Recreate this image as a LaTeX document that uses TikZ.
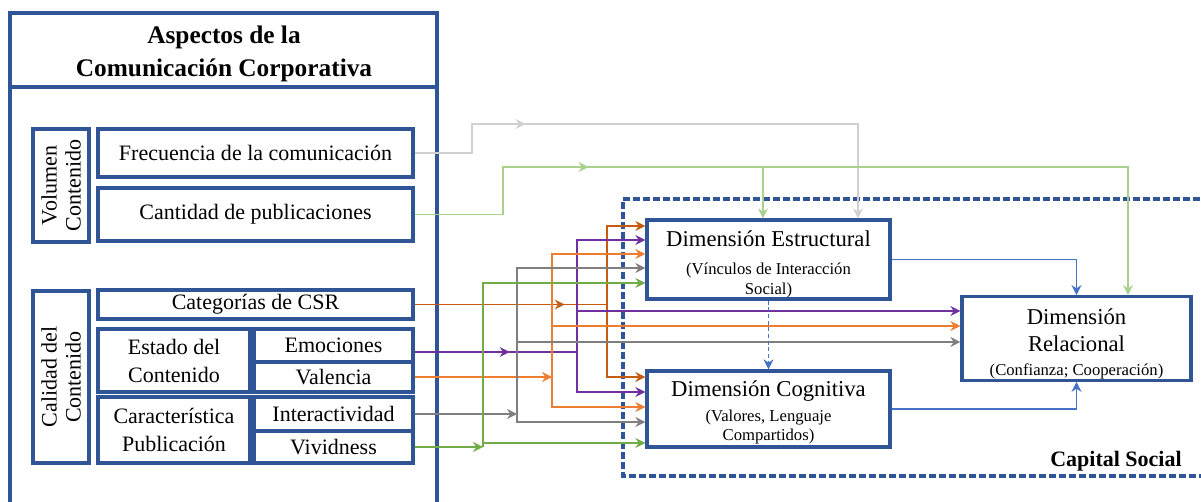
\documentclass[tikz,border=0pt]{standalone}
\usepackage{fontspec}
\setmainfont{Liberation Serif}
\usetikzlibrary{arrows.meta,decorations.markings}
\definecolor{marco}{HTML}{2F5597}
\definecolor{grisc}{HTML}{D0D0D0}
\definecolor{verdec}{HTML}{A9D18E}
\definecolor{verde}{HTML}{70AD47}
\definecolor{gris}{HTML}{7F7F7F}
\definecolor{naranja}{HTML}{ED7D31}
\definecolor{naranjao}{HTML}{C55A11}
\definecolor{morado}{HTML}{7030A0}
\definecolor{azul}{HTML}{4472C4}
\tikzset{>={Stealth[length=7.5pt,width=7.5pt,inset=2.5pt]},
  caja/.style={draw=marco,line width=2.5pt,inner sep=1pt,align=center,font=\fontsize{16.5}{21}\selectfont},
  dim/.style={caja,font=\fontsize{12.5}{14.5}\selectfont},
  linea/.style={line width=.9pt},
  flujo/.style={line width=.9pt,->},
  medio/.style={postaction={decorate},decoration={markings,mark=at position #1 with {\arrow{>}}}}}

\begin{document}
\begin{tikzpicture}[x=.75pt,y=-.75pt]
\useasboundingbox (0,0) rectangle (1201,502);
\clip (0,0) rectangle (1201,502);
\draw[marco,line width=2.5pt] (10,530) |- (437,13) -- (437,530);
\draw[marco,line width=2.5pt] (10,87) -- (437,87);
\node[font=\bfseries\fontsize{19}{24.75}\selectfont,align=center] (titulo) at (224,53.5) {Aspectos de la\\Comunicación Corporativa};

\node[caja,rotate=90,minimum width=84.75pt,minimum height=42pt,font=\fontsize{16.5}{18}\selectfont] (vol) at (61,185.5) {Volumen\\Contenido};
\node[caja,minimum width=236.25pt,minimum height=36pt] (frec) at (255.5,153) {Frecuencia de la comunicación};
\node[caja,minimum width=236.25pt,minimum height=39.75pt] (cant) at (255.5,214.5) {Cantidad de publicaciones};
\node[caja,rotate=90,minimum width=129pt,minimum height=42pt,font=\fontsize{16.5}{18}\selectfont] (cal) at (61,377) {Calidad del\\Contenido};
\node[caja,minimum width=236.25pt,minimum height=21.75pt] (csr) at (255.5,304.5) {Categorías de CSR};
\node[caja,minimum width=114pt,minimum height=47.25pt] (estado) at (174,360.5) {Estado del\\Contenido};
\node[caja,minimum width=119.25pt,minimum height=24.75pt] (emo) at (333.5,345.5) {Emociones};
\node[caja,minimum width=119.25pt,minimum height=22.5pt] (val) at (333.5,377) {Valencia};
\node[caja,minimum width=114pt,minimum height=49.5pt] (carac) at (174,430) {Característica\\Publicación};
\node[caja,minimum width=119.25pt,minimum height=25.5pt] (inter) at (333.5,414) {Interactividad};
\node[caja,minimum width=119.25pt,minimum height=24pt] (viv) at (333.5,447) {Vividness};

\draw[marco,line width=2.5pt,dash pattern=on 5pt off 2.5pt] (1220,199) -| (623,476) -- (1220,476);
\node[font=\bfseries\fontsize{16.5}{20}\selectfont] (capital) at (1116,461) {Capital Social};

\node[dim,minimum width=182.25pt,minimum height=56.25pt] (estr) at (768.5,259.5) {\rule{0pt}{19pt}\fontsize{17}{20}\selectfont Dimensión Estructural\\[6.5pt](Vínculos de Interacción\\Social)};
\node[dim,minimum width=182.25pt,minimum height=57pt] (cogn) at (768.5,409) {\rule{0pt}{17pt}\fontsize{17}{20}\selectfont Dimensión Cognitiva\\[4pt](Valores, Lenguaje\\Compartidos)};
\node[dim,minimum width=171.75pt,minimum height=60.75pt,font=\fontsize{17}{20}\selectfont] (rel) at (1076.5,338.5) {\rule{0pt}{20pt}Dimensión\\Relacional\\[-2pt]\fontsize{12.5}{14.5}\selectfont(Confianza; Cooperación)};

\coordinate (rama) at (763,167);
\coordinate (bcsr) at (607,304.5);
\coordinate (bemo) at (577,352);
\coordinate (bval) at (552,377);
\coordinate (bint) at (517,414);
\coordinate (bviv) at (483,447);

\draw[flujo,grisc,medio=0.247] (frec.east) -| (472,124) -| (858,0 |- estr.north);
\draw[flujo,verdec,medio=0.249] (cant.east) -| (503,167) -| (1128,0 |- rel.north);
\draw[flujo,verdec] (rama) -- (rama |- estr.north);

\draw[linea,naranjao,medio=0.78] (csr.east) -- (bcsr);
\draw[flujo,naranjao] (bcsr) |- (estr.west |- 0,226);
\draw[flujo,naranjao] (bcsr) |- (cogn.west |- 0,377);

\draw[linea,morado,medio=0.585] (emo.east |- bemo) -- (bemo);
\draw[flujo,morado] (bemo) |- (estr.west |- 0,240);
\draw[flujo,morado] (bemo) |- (rel.west |- 0,311);
\draw[flujo,morado] (bemo) |- (cogn.west |- 0,392);

\draw[flujo,naranja] (val.east) -- (bval);
\draw[flujo,naranja] (bval) |- (estr.west |- 0,254);
\draw[flujo,naranja] (bval) |- (rel.west |- 0,326);
\draw[flujo,naranja] (bval) |- (cogn.west |- 0,407);

\draw[flujo,gris] (inter.east) -- (bint);
\draw[flujo,gris] (bint) |- (estr.west |- 0,268);
\draw[flujo,gris] (bint) |- (rel.west |- 0,342);
\draw[flujo,gris] (bint) |- (cogn.west |- 0,422);

\draw[flujo,verde] (viv.east) -- (bviv);
\draw[flujo,verde] (bviv) |- (estr.west |- 0,283);
\draw[flujo,verde] (bviv) |- (cogn.west |- 0,443);

\draw[flujo,azul] (estr.east) -| (rel.north);
\draw[flujo,azul] (cogn.east) -| (rel.south);
\draw[flujo,azul,dash pattern=on 3pt off 2pt] (estr.south) -- (cogn.north);
\end{tikzpicture}
\end{document}
